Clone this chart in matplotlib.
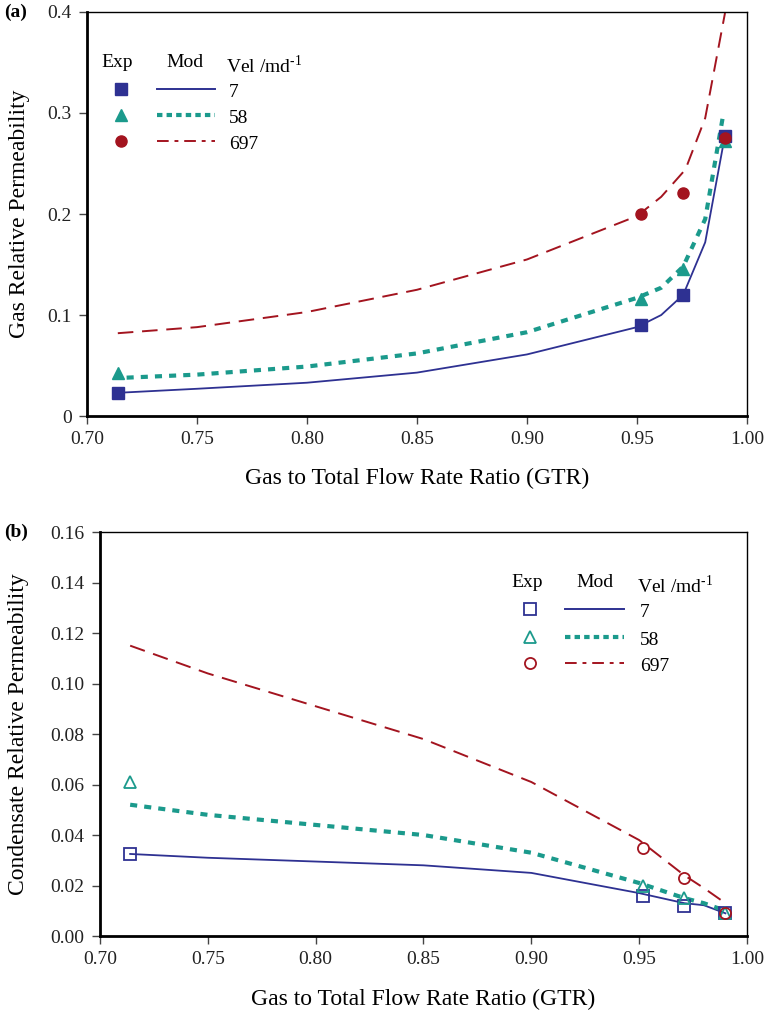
import matplotlib.pyplot as plt

plt.rcParams['font.family'] = ['Liberation Serif', 'DejaVu Serif']
plt.rcParams['mathtext.fontset'] = 'custom'
plt.rcParams['mathtext.rm'] = 'Liberation Serif'

blue = '#2e3192'
teal = '#1b9a8c'
red = '#a3141f'

# experimental points
gtr_exp = [0.714, 0.952, 0.971, 0.990]
krg_7 = [0.023, 0.090, 0.120, 0.277]
krg_58 = [0.043, 0.116, 0.146, 0.272]
gtr_exp_697 = [0.952, 0.971, 0.990]
krg_697 = [0.200, 0.221, 0.275]

krc_7 = [0.0325, 0.016, 0.012, 0.009]
krc_58 = [0.061, 0.020, 0.015, 0.009]
krc_697 = [0.035, 0.023, 0.009]

# model curves
gtr_mod_a = [0.714, 0.75, 0.80, 0.85, 0.90, 0.95, 0.961, 0.971, 0.981, 0.990]
mod_krg_7 = [0.023, 0.027, 0.033, 0.043, 0.061, 0.088, 0.100, 0.120, 0.172, 0.278]
gtr_mod_a58 = [0.718, 0.75, 0.80, 0.85, 0.90, 0.95, 0.961, 0.971, 0.981, 0.989]
mod_krg_58 = [0.038, 0.041, 0.049, 0.062, 0.083, 0.117, 0.127, 0.148, 0.195, 0.296]
gtr_mod_a697 = [0.714, 0.75, 0.80, 0.85, 0.90, 0.95, 0.961, 0.972, 0.981, 0.990]
mod_krg_697 = [0.082, 0.088, 0.103, 0.125, 0.155, 0.198, 0.217, 0.244, 0.295, 0.399]

gtr_mod_b = [0.714, 0.75, 0.80, 0.85, 0.90, 0.95, 0.971, 0.980, 0.990]
mod_krc_7 = [0.0325, 0.031, 0.0295, 0.028, 0.025, 0.017, 0.013, 0.0122, 0.009]
mod_krc_58 = [0.052, 0.048, 0.044, 0.040, 0.033, 0.021, 0.015, 0.013, 0.010]
mod_krc_697 = [0.115, 0.104, 0.091, 0.078, 0.061, 0.038, 0.024, 0.019, 0.013]

vel_labels = ['7', '58', '697']
dot_ls = (0, (1.7, 1.7))
legend_dot = (0, (1.3, 1.0))
dash_ls = (0, (8, 4.5))
legend_dashdot = (0, (6, 3, 2, 3))

fig = plt.figure(figsize=(7.66, 10.14), dpi=100)
ax1 = fig.add_axes([0.1136, 0.5897, 0.8616, 0.3985])
ax2 = fig.add_axes([0.1305, 0.0769, 0.8447, 0.3984])


def style_axes(ax):
    ax.set_xlim(0.70, 1.00)
    ax.set_xticks([0.70, 0.75, 0.80, 0.85, 0.90, 0.95, 1.00])
    ax.set_xticklabels(['0.70', '0.75', '0.80', '0.85', '0.90', '0.95', '1.00'])
    ax.tick_params(direction='out', length=6, width=1, labelsize=14, color='#444444',
                   labelcolor='#222222', top=False, right=False, pad=5)
    for s in ['left', 'bottom']:
        ax.spines[s].set_linewidth(2)
    for s in ['right', 'top']:
        ax.spines[s].set_linewidth(1)
    ax.set_xlabel('Gas to Total Flow Rate Ratio (GTR)', fontsize=17, va='top')


# ---- panel (a)
ax1.plot(gtr_mod_a, mod_krg_7, color=blue, lw=1.3)
ax1.plot(gtr_mod_a58, mod_krg_58, color=teal, lw=3, ls=dot_ls)
ax1.plot(gtr_mod_a697, mod_krg_697, color=red, lw=1.4, ls=dash_ls)
ax1.plot(gtr_exp, krg_7, 's', color=blue, ms=8, clip_on=False)
ax1.plot(gtr_exp, krg_58, '^', color=teal, ms=8, clip_on=False)
ax1.plot(gtr_exp_697, krg_697, 'o', color=red, ms=8, clip_on=False)
ax1.set_ylim(0, 0.4)
ax1.set_yticks([0, 0.1, 0.2, 0.3, 0.4])
ax1.set_yticklabels(['0', '0.1', '0.2', '0.3', '0.4'])
style_axes(ax1)
ax1.set_ylabel('Gas Relative Permeability', fontsize=17)
ax1.yaxis.set_label_coords(-0.086, 0.5)
ax1.xaxis.set_label_coords(0.5, -0.128)

# ---- panel (b)
ax2.plot(gtr_mod_b, mod_krc_7, color=blue, lw=1.3)
ax2.plot(gtr_mod_b, mod_krc_58, color=teal, lw=3, ls=dot_ls)
ax2.plot(gtr_mod_b, mod_krc_697, color=red, lw=1.4, ls=dash_ls)
ax2.plot(gtr_exp, krc_7, 's', mfc='none', mec=blue, mew=1.3, ms=8, clip_on=False)
ax2.plot(gtr_exp, krc_58, '^', mfc='none', mec=teal, mew=1.3, ms=8, clip_on=False)
ax2.plot(gtr_exp_697, krc_697, 'o', mfc='none', mec=red, mew=1.3, ms=8, clip_on=False)
ax2.set_ylim(0, 0.16)
ax2.set_yticks([0, 0.02, 0.04, 0.06, 0.08, 0.10, 0.12, 0.14, 0.16])
ax2.set_yticklabels(['0.00', '0.02', '0.04', '0.06', '0.08', '0.10', '0.12', '0.14', '0.16'])
style_axes(ax2)
ax2.set_ylabel('Condensate Relative Permeability', fontsize=17)
ax2.yaxis.set_label_coords(-0.109, 0.5)
ax2.xaxis.set_label_coords(0.5, -0.131)


# hand-made legends (three columns: Exp / Mod / Vel)
def draw_legend(ax, x_exp, x_mod, x_vel, x_mark, x_line, x_num, y_head, rows, filled):
    kw = dict(transform=ax.transAxes, fontsize=14)
    ax.text(x_exp, y_head, 'Exp', ha='center', va='center', **kw)
    ax.text(x_mod, y_head, 'Mod', ha='center', va='center', **kw)
    ax.text(x_vel, y_head - 0.008, r'Vel /md$^{\text{-1}}$', ha='left', va='center', **kw)
    specs = [('s', blue, '-'), ('^', teal, legend_dot), ('o', red, legend_dashdot)]
    for (m, c, ls), y, lab in zip(specs, rows, vel_labels):
        if filled:
            ax.plot([x_mark], [y], m, color=c, ms=8, transform=ax.transAxes)
        else:
            ax.plot([x_mark], [y], m, mfc='none', mec=c, mew=1.3, ms=8,
                    transform=ax.transAxes)
        lw = 3 if ls is legend_dot else 1.4
        ax.plot(x_line, [y, y], color=c, lw=lw, ls=ls, transform=ax.transAxes)
        ax.text(x_num, y - 0.008, lab, ha='left', va='center', **kw)


draw_legend(ax1, 0.045, 0.148, 0.211, 0.052, [0.106, 0.194], 0.215, 0.876,
            [0.809, 0.745, 0.681], True)
draw_legend(ax2, 0.660, 0.765, 0.830, 0.664, [0.719, 0.810], 0.835, 0.874,
            [0.809, 0.740, 0.676], False)

fig.text(0.005, 0.988, '(a)', fontsize=14, fontweight='bold', va='center')
fig.text(0.005, 0.475, '(b)', fontsize=14, fontweight='bold', va='center')

fig.savefig('out.png', dpi=100)
